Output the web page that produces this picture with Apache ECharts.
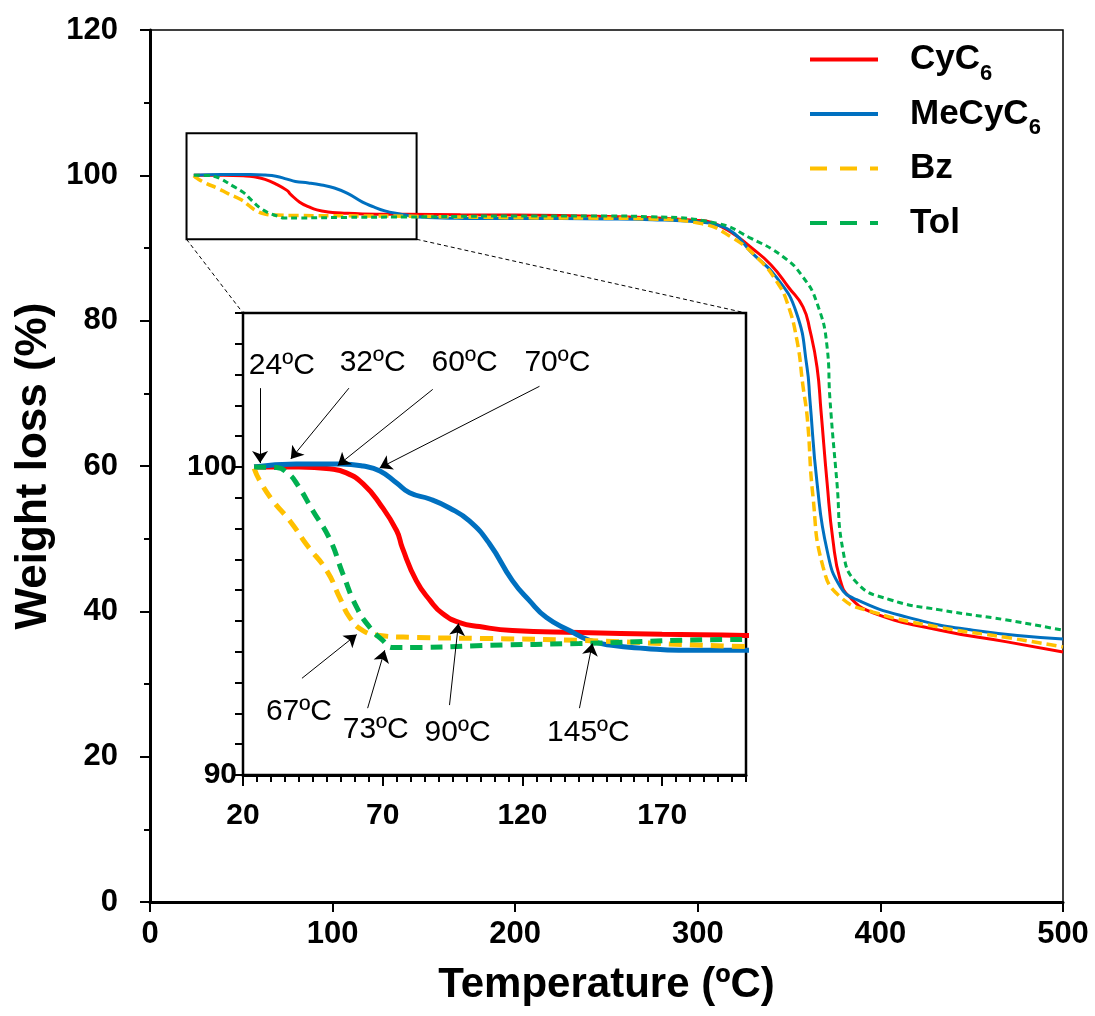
<!DOCTYPE html>
<html lang="en">
<head>
<meta charset="UTF-8">
<script src="https://cdn.jsdelivr.net/npm/echarts@6/dist/echarts.min.js"></script>
<style>
  html, body { margin: 0; padding: 0; background: #fff; }
  #chart { width: 1095px; height: 1016px; }
</style>
</head>
<body>
<div id="chart"></div>
<script>
// TGA curves, [temperature ºC, weight %]
const cyc6 = [[24, 100.0], [40, 100.0], [51, 99.94], [57, 99.81], [63, 99.45], [69, 98.8], [75, 97.93], [77, 97.38],
  [82, 96.31], [87, 95.66], [91.4, 95.24], [97.5, 94.95], [104.6, 94.82], [116.4, 94.69], [140.4, 94.63], [170, 94.57],
  [200, 94.53], [250, 94.35], [275, 94.15], [300, 93.8], [307, 93.55], [318, 92.2], [329, 90.1], [340, 87.7], [350, 84.5],
  [357.6, 81.9], [361.4, 78.7], [365.3, 73.6], [367.5, 67.5], [370.8, 57.7], [374, 49.8], [378, 44.3], [383, 42.0],
  [396, 39.8], [432.6, 37.4], [469.3, 35.8], [500, 34.4]];
const mecyc6 = [[24, 100.0], [39, 100.1], [55, 100.1], [63, 100.03], [69, 99.87], [75, 99.48], [79.6, 99.16], [86.8, 98.96],
  [93.9, 98.67], [101, 98.25], [108.2, 97.51], [116.4, 96.31], [122.5, 95.66], [128.6, 95.11], [136.8, 94.69], [144, 94.37],
  [152, 94.21], [164, 94.11], [176, 94.05], [200, 94.05], [250, 94.0], [275, 93.9], [300, 93.6], [310, 93.2], [320, 92.0],
  [329, 89.5], [343, 86.0], [354, 81.1], [359.8, 73.6], [361.4, 69.1], [365.3, 57.7], [370.8, 48.4], [378, 43.4],
  [387, 41.6], [414.6, 39.2], [450.7, 37.4], [500, 36.2]];
const bz = [[24, 99.95], [26, 99.55], [30.7, 98.9], [36.8, 98.25], [43, 97.45], [50, 96.63], [54.6, 95.76], [58.2, 95.11],
  [62.9, 94.69], [68.9, 94.53], [80.7, 94.47], [108.2, 94.43], [140.4, 94.37], [200, 94.17], [250, 94.1], [274, 94.0],
  [301, 93.4], [319, 91.4], [334, 88.3], [343.4, 85.3], [348.8, 82.6], [354.3, 77.3], [357.6, 71.0], [360, 66.5],
  [363, 56.0], [368.6, 46.1], [378, 42.0], [396, 39.9], [432.6, 37.8], [469.3, 36.4], [500, 35.1]];
const tol = [[24, 100.0], [32, 99.98], [36, 99.8], [39.3, 99.45], [45, 98.58], [51.1, 97.65], [55.7, 96.54], [60.7, 95.44],
  [65.4, 94.79], [70, 94.37], [73.6, 94.14], [80.7, 94.14], [108.2, 94.21], [140.4, 94.27], [200, 94.4], [250, 94.4],
  [274, 94.3], [310.5, 93.4], [328.6, 91.4], [346.7, 88.8], [357.6, 86.0], [365.3, 82.4], [370.8, 76.4], [372.4, 69.1],
  [376.2, 57.7], [379.5, 48.4], [387.2, 43.9], [405.3, 41.6], [432.6, 40.2], [469.3, 38.8], [500, 37.4]];

const seriesNames = ['CyC6', 'MeCyC6', 'Bz', 'Tol'];
const legendText = { CyC6: ['CyC', '6'], MeCyC6: ['MeCyC', '6'], Bz: ['Bz', ' '], Tol: ['Tol', ' '] };

// zoom box on the main plot: [x0, x1, y0, y1]
const zoomBox = [20, 146, 91.2, 105.8];

// inset annotations: text position, arrow start, arrow tip
const notes = [
  { text: '24ºC', at: [33.9, 103.3], from: [26.1, 102.56], to: [26.1, 100.13] },
  { text: '32ºC', at: [66.4, 103.37], from: [57.9, 102.56], to: [37.1, 100.26] },
  { text: '60ºC', at: [99.3, 103.37], from: [87.9, 102.52], to: [53.9, 100.05] },
  { text: '70ºC', at: [132.5, 103.37], from: [126.1, 102.62], to: [68.9, 99.97] },
  { text: '67ºC', at: [40.0, 92.04], from: [41.1, 93.14], to: [60.7, 94.56] },
  { text: '73ºC', at: [67.5, 91.46], from: [64.6, 92.17], to: [70.7, 94.05] },
  { text: '90ºC', at: [96.8, 91.36], from: [93.9, 92.27], to: [97.1, 94.92] },
  { text: '145ºC', at: [143.6, 91.36], from: [140.4, 92.17], to: [145, 94.27] }
];

const insetXLabels = [20, 70, 120, 170];
const insetYLabels = [90, 100];

const colors = { CyC6: '#FF0000', MeCyC6: '#0070C0', Bz: '#FFC000', Tol: '#00B050' };
const dataByName = { CyC6: cyc6, MeCyC6: mecyc6, Bz: bz, Tol: tol };
const mainDash = { CyC6: 'solid', MeCyC6: 'solid', Bz: [10, 5], Tol: [6, 4] };
const insetDash = { CyC6: 'solid', MeCyC6: 'solid', Bz: [13, 8], Tol: [12, 8] };

const font = "'Liberation Sans', Arial, sans-serif";
const chart = echarts.init(document.getElementById('chart'));

let series = [];
seriesNames.forEach(function (n, i) {
  series.push({
    name: n, type: 'line', xAxisIndex: 0, yAxisIndex: 0, data: dataByName[n],
    symbol: 'none', smooth: 0.5, z: 3 + i,
    lineStyle: { color: colors[n], width: n === 'Bz' ? 3.5 : 3, type: mainDash[n] },
    itemStyle: { color: colors[n] },
    markArea: i === 0 ? {
      silent: true,
      itemStyle: { color: 'rgba(0,0,0,0)', borderColor: '#000', borderWidth: 2 },
      data: [[{ xAxis: zoomBox[0], yAxis: zoomBox[3] }, { xAxis: zoomBox[1], yAxis: zoomBox[2] }]]
    } : undefined
  });
});
seriesNames.forEach(function (n, i) {
  series.push({
    name: n, type: 'line', xAxisIndex: 1, yAxisIndex: 1, data: dataByName[n],
    symbol: 'none', smooth: 0.5, z: 10 + i,
    lineStyle: { color: colors[n], width: 5, type: insetDash[n] },
    itemStyle: { color: colors[n] }
  });
});
series.push({
  type: 'lines', coordinateSystem: 'cartesian2d', xAxisIndex: 1, yAxisIndex: 1, z: 20,
  symbol: ['none', 'arrow'], symbolSize: 12,
  lineStyle: { color: '#000', width: 1, opacity: 1, curveness: 0 },
  data: notes.map(d => ({ coords: [d.from, d.to] }))
});
series.push({
  type: 'scatter', xAxisIndex: 1, yAxisIndex: 1, z: 20, symbolSize: 1,
  itemStyle: { color: '#000', opacity: 0 },
  label: { show: true, position: 'inside', formatter: '{b}', color: '#000', opacity: 1, fontSize: 30, fontFamily: font },
  data: notes.map(d => ({ name: d.text, value: d.at }))
});

const option = {
  animation: false,
  backgroundColor: '#fff',
  textStyle: { fontFamily: font },
  grid: [
    { left: 150, right: 32, top: 30, bottom: 114, show: true, borderColor: '#000', borderWidth: 1.5, backgroundColor: '#fff' },
    { left: 243, top: 313, width: 503, height: 462, show: true, borderColor: '#000', borderWidth: 2.5, backgroundColor: '#fff', z: 2 }
  ],
  legend: {
    orient: 'vertical', left: 803, top: 37, itemWidth: 68, itemHeight: 14, itemGap: 12,
    itemStyle: { opacity: 0 },
    data: [
      { name: 'CyC6', lineStyle: { width: 4 } },
      { name: 'MeCyC6', lineStyle: { width: 4 } },
      { name: 'Bz', lineStyle: { width: 4, type: [17, 13] } },
      { name: 'Tol', lineStyle: { width: 4, type: [17, 13] } }
    ],
    formatter: function (name) {
      const t = legendText[name];
      return '{b|' + t[0] + '}{s|' + t[1] + '}';
    },
    textStyle: {
      padding: [0, 0, 0, 27],
      rich: {
        b: { fontSize: 35, fontWeight: 'bold', color: '#000', fontFamily: font, lineHeight: 50 },
        s: { fontSize: 22, fontWeight: 'bold', color: '#000', fontFamily: font, lineHeight: 6, verticalAlign: 'bottom' }
      }
    }
  },
  xAxis: [
    {
      gridIndex: 0, type: 'value', min: 0, max: 500, interval: 100,
      name: 'Temperature (ºC)', nameLocation: 'middle', nameGap: 62,
      nameTextStyle: { fontSize: 42, fontWeight: 'bold', color: '#000', fontFamily: font },
      axisLine: { lineStyle: { color: '#000', width: 3 } },
      axisTick: { inside: false, length: 10, lineStyle: { color: '#000', width: 2 } },
      axisLabel: { fontSize: 31, fontWeight: 'bold', color: '#000', margin: 17, fontFamily: font },
      splitLine: { show: false }
    },
    {
      gridIndex: 1, type: 'value', min: 20, max: 200, interval: 50,
      axisLine: { onZero: false, lineStyle: { color: '#000', width: 3 } },
      axisTick: { length: 11, customValues: insetXLabels, lineStyle: { color: '#000', width: 2 } },
      axisLabel: { customValues: insetXLabels, fontSize: 30, fontWeight: 'bold', color: '#000', margin: 26, fontFamily: font },
      splitLine: { show: false }
    },
    {
      gridIndex: 1, type: 'value', min: 20, max: 200, interval: 5, position: 'bottom',
      axisLine: { show: false },
      axisTick: { length: 7, lineStyle: { color: '#000', width: 2 } },
      axisLabel: { show: false },
      splitLine: { show: false }
    }
  ],
  yAxis: [
    {
      gridIndex: 0, type: 'value', min: 0, max: 120, interval: 20,
      name: 'Weight loss (%)', nameLocation: 'middle', nameGap: 88, nameRotate: 90,
      nameTextStyle: { fontSize: 44, fontWeight: 'bold', color: '#000', fontFamily: font },
      axisLine: { lineStyle: { color: '#000', width: 3 } },
      axisTick: { length: 10, lineStyle: { color: '#000', width: 2 } },
      minorTick: { show: true, splitNumber: 2, length: 6, lineStyle: { color: '#000', width: 2 } },
      axisLabel: { fontSize: 31, fontWeight: 'bold', color: '#000', margin: 32, fontFamily: font },
      splitLine: { show: false }
    },
    {
      gridIndex: 1, type: 'value', min: 90, max: 105, interval: 1,
      axisLine: { onZero: false, lineStyle: { color: '#000', width: 3 } },
      axisTick: { length: 8, lineStyle: { color: '#000', width: 2 } },
      axisLabel: { customValues: insetYLabels, fontSize: 30, fontWeight: 'bold', color: '#000', margin: 6, fontFamily: font },
      splitLine: { show: false }
    }
  ],
  series: series
};
chart.setOption(option);

// dashed connectors from the zoom box to the inset
const a0 = chart.convertToPixel({ gridIndex: 0 }, [zoomBox[0], zoomBox[2]]);
const a1 = chart.convertToPixel({ gridIndex: 0 }, [zoomBox[1], zoomBox[2]]);
const b0 = chart.convertToPixel({ gridIndex: 1 }, [20, 105]);
const b1 = chart.convertToPixel({ gridIndex: 1 }, [200, 105]);
chart.setOption({
  graphic: [a0, a1].map(function (p, i) {
    const q = i === 0 ? b0 : b1;
    return {
      type: 'line', z: 1, silent: true,
      shape: { x1: p[0], y1: p[1], x2: q[0], y2: q[1] },
      style: { stroke: '#000', lineWidth: 1, lineDash: [4, 3] }
    };
  })
});
</script>
</body>
</html>
